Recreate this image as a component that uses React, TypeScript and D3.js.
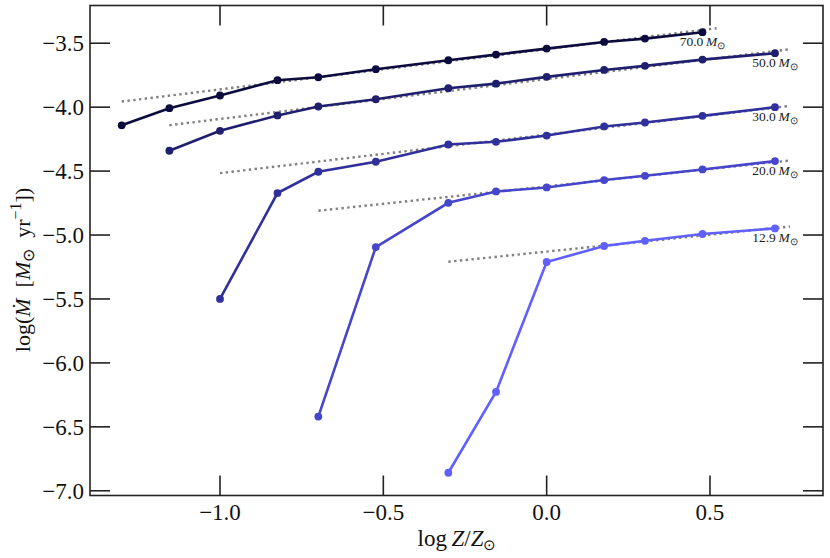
import React from "react";
import * as d3 from "d3";

const masses = ["70.0", "50.0", "30.0", "20.0", "12.9"];
const colors = ["#0b0b3d", "#1f1f6e", "#30309c", "#4646cc", "#6060ff"];

const x70 = [-1.301, -1.155, -1.0, -0.824, -0.699, -0.523, -0.301, -0.155, 0.0, 0.176, 0.301, 0.477];
const y70 = [-4.142, -4.008, -3.909, -3.789, -3.766, -3.703, -3.633, -3.589, -3.542, -3.49, -3.464, -3.414];

const x50 = [-1.155, -1.0, -0.824, -0.699, -0.523, -0.301, -0.155, 0.0, 0.176, 0.301, 0.477, 0.699];
const y50 = [-4.341, -4.185, -4.065, -3.995, -3.938, -3.852, -3.816, -3.763, -3.709, -3.677, -3.628, -3.578];

const x30 = [-1.0, -0.824, -0.699, -0.523, -0.301, -0.155, 0.0, 0.176, 0.301, 0.477, 0.699];
const y30 = [-5.5, -4.672, -4.505, -4.427, -4.292, -4.271, -4.222, -4.151, -4.12, -4.068, -4.0];

const x20 = [-0.699, -0.523, -0.301, -0.155, 0.0, 0.176, 0.301, 0.477, 0.699];
const y20 = [-6.42, -5.094, -4.748, -4.659, -4.628, -4.57, -4.537, -4.487, -4.422];

const x13 = [-0.301, -0.155, 0.0, 0.176, 0.301, 0.477, 0.699];
const y13 = [-6.859, -6.227, -5.211, -5.086, -5.045, -4.992, -4.948];

// dotted fit lines: start/end x and y for each mass
const fitX0 = [-1.301, -1.155, -1.0, -0.699, -0.301];
const fitX1 = [0.52, 0.745, 0.745, 0.745, 0.745];
const fitY0 = [-3.956, -4.141, -4.516, -4.81, -5.209];
const fitY1 = [-3.383, -3.547, -3.99, -4.417, -4.933];

const xTicks = [-1.0, -0.5, 0.0, 0.5];
const yTicks = [-3.5, -4.0, -4.5, -5.0, -5.5, -6.0, -6.5, -7.0];

const seriesX = [x70, x50, x30, x20, x13];
const seriesY = [y70, y50, y30, y20, y13];

const W = 830;
const H = 558;
const L = 90, R = 823, T = 5.5, B = 495.5;

const fmt = (v: number) => {
  const s = Math.abs(v).toFixed(1);
  return (v < 0 ? "\u2212" : "") + s;
};

export default function App() {
  const x = d3.scaleLinear().domain([-1.398, 0.846]).range([L, R]);
  const y = d3.scaleLinear().domain([-3.205, -7.037]).range([T, B]);
  const line = d3
    .line<[number, number]>()
    .x((d) => x(d[0]))
    .y((d) => y(d[1]));
  const font = "'Liberation Serif', 'Times New Roman', serif";
  const tickLen = 20;
  const ink = "#222";
  const fs = 23;

  return (
    <svg
      width={W}
      height={H}
      style={{ position: "absolute", left: 0, top: 0, background: "#fff" }}
      fontFamily={font}
    >
      {/* fit lines */}
      {masses.map((m, i) => (
        <path
          key={"fit" + m}
          d={line([
            [fitX0[i], fitY0[i]],
            [fitX1[i], fitY1[i]],
          ]) || ""}
          fill="none"
          stroke="#808080"
          strokeWidth={2.4}
          strokeDasharray="2.4,3.4"
        />
      ))}
      {/* data series */}
      {masses.map((m, i) => {
        const pts: [number, number][] = seriesX[i].map((v, j) => [v, seriesY[i][j]]);
        return (
          <g key={"s" + m}>
            <path d={line(pts) || ""} fill="none" stroke={colors[i]} strokeWidth={2.6} />
            {pts.map((p, j) => (
              <circle key={j} cx={x(p[0])} cy={y(p[1])} r={3.9} fill={colors[i]} />
            ))}
          </g>
        );
      })}
      {/* labels */}
      {masses.map((m, i) => {
        const xs = seriesX[i];
        const ys = seriesY[i];
        const lx = x(xs[xs.length - 1]);
        const ly = y(ys[ys.length - 1]);
        return (
          <text
            key={"lab" + m}
            x={lx}
            y={ly + 14}
            textAnchor="middle"
            fontSize={13.5}
            fill="#222"
          >
            {m + "\u2009"}
            <tspan fontStyle="italic">M</tspan>
            <tspan fontSize={9.5} dy={3}>{"\u2299"}</tspan>
          </text>
        );
      })}
      {/* frame */}
      <rect x={L} y={T} width={R - L} height={B - T} fill="none" stroke={ink} strokeWidth={1.6} />
      {/* x ticks */}
      {xTicks.map((t) => (
        <g key={"xt" + t}>
          <line x1={x(t)} x2={x(t)} y1={B} y2={B - tickLen} stroke={ink} strokeWidth={1.6} />
          <line x1={x(t)} x2={x(t)} y1={T} y2={T + tickLen} stroke={ink} strokeWidth={1.6} />
          <text x={x(t)} y={B + 24} textAnchor="middle" fontSize={fs} fill="#111">
            {fmt(t)}
          </text>
        </g>
      ))}
      {/* y ticks */}
      {yTicks.map((t) => (
        <g key={"yt" + t}>
          <line x1={L} x2={L + tickLen} y1={y(t)} y2={y(t)} stroke={ink} strokeWidth={1.6} />
          <line x1={R} x2={R - tickLen} y1={y(t)} y2={y(t)} stroke={ink} strokeWidth={1.6} />
          <text x={L - 6} y={y(t)} dy="0.35em" textAnchor="end" fontSize={fs} fill="#111">
            {fmt(t)}
          </text>
        </g>
      ))}
      {/* axis titles */}
      <text x={457} y={546} textAnchor="middle" fontSize={fs} fill="#111">
        {"log\u2009"}
        <tspan fontStyle="italic">Z</tspan>
        {"/"}
        <tspan fontStyle="italic">Z</tspan>
        <tspan fontSize={15} dy={4}>{"\u2299"}</tspan>
      </text>
      <text
        transform={`translate(30, 270) rotate(-90)`}
        textAnchor="middle"
        fontSize={22}
        fill="#111"
      >
        {"log("}
        <tspan fontStyle="italic">{"M\u0307"}</tspan>
        {"\u2002["}
        <tspan fontStyle="italic">M</tspan>
        <tspan fontSize={16} dy={4}>{"\u2299"}</tspan>
        <tspan dy={-4}>{"\u2002yr"}</tspan>
        <tspan fontSize={16} dy={-9}>{"\u22121"}</tspan>
        <tspan dy={9}>{"])"}</tspan>
      </text>
    </svg>
  );
}
